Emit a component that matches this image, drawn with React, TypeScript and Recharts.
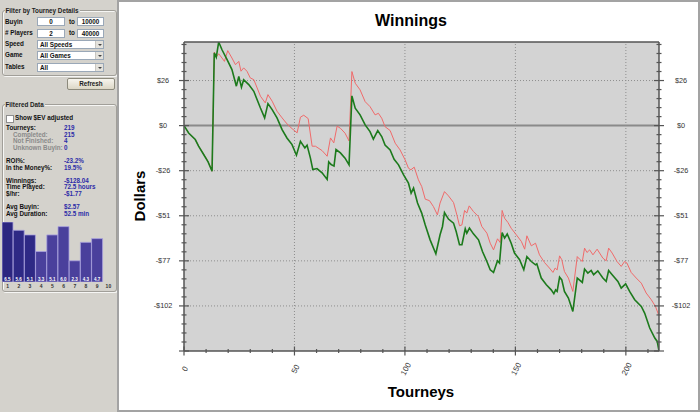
import { LineChart, Line, XAxis, YAxis, ReferenceLine, CartesianGrid, BarChart, Bar, Cell, LabelList } from 'recharts'

// cumulative winnings in dollars, green line: [tourney, dollars]
const winningsPts: [number, number][] = [
  [0, 0], [2.1, -4.2], [5.1, -7.9], [6.6, -11.7], [8.9, -16.4], [10.9, -20.6], [12.7, -25.9],
  [13.7, 41.3], [14.6, 38.8], [15.7, 47.5], [17.2, 43.1], [19.5, 37.5], [21.7, 31.8], [23.7, 22.4],
  [24.8, 28.0], [26.0, 21.8], [27.0, 26.1], [29.3, 23.3], [31.6, 19.5], [34.6, 10.0], [36.5, 4.4],
  [38.0, 12.5], [39.9, 9.1], [42.1, 4.4], [44.4, -2.3], [46.6, -7.0], [48.9, -10.8], [50.9, -16.8],
  [52.7, -8.9], [54.7, -12.7], [55.7, -11.1], [57.2, -18.3], [58.3, -25.0], [60.2, -24.4], [62.5, -26.8],
  [64.8, -30.6], [65.5, -20.6], [66.6, -22.1], [67.9, -23.0], [68.8, -13.6], [70.8, -15.5], [72.9, -18.5],
  [74.7, -22.3], [76.0, 16.9], [77.5, 9.9], [79.7, 6.1], [82.0, 0.4], [84.2, -3.4], [85.7, -7.7],
  [87.7, -2.8], [89.5, -6.2], [91.0, -11.0], [93.3, -13.8], [95.1, -19.1], [97.1, -22.3], [99.4, -28.0],
  [101.6, -32.7], [102.8, -38.4], [103.9, -35.5], [105.7, -44.0], [107.6, -49.7], [109.2, -56.4],
  [111.4, -64.9], [114.0, -72.8], [115.9, -62.0], [117.0, -57.3], [117.9, -49.4], [119.7, -53.1],
  [122.0, -55.4], [123.2, -60.2], [124.7, -67.7], [125.8, -67.7], [127.3, -58.6], [128.0, -61.1],
  [129.2, -58.2], [131.0, -61.5], [133.3, -64.9], [135.1, -71.5], [137.1, -77.2], [138.6, -81.9],
  [140.1, -83.4], [141.9, -76.8], [142.8, -78.1], [144.0, -60.7], [145.1, -63.9], [146.3, -61.6],
  [148.1, -66.8], [149.6, -72.4], [151.9, -76.2], [153.8, -81.9], [155.2, -74.4], [157.2, -77.2],
  [159.1, -79.1], [159.7, -78.5], [161.7, -86.6], [164.0, -90.4], [166.2, -93.3], [167.4, -95.5],
  [168.2, -93.3], [168.9, -94.2], [170.0, -86.1], [171.0, -87.6], [172.2, -94.2], [174.0, -98.0],
  [176.0, -105.6], [178.0, -86.6], [180.3, -89.1], [181.3, -81.5], [182.8, -83.8], [184.3, -82.3],
  [185.4, -84.7], [187.3, -82.5], [189.6, -86.6], [191.1, -88.5], [192.2, -82.3], [193.8, -84.7],
  [196.4, -88.5], [197.9, -92.3], [199.9, -89.9], [201.7, -94.2], [204.0, -98.9], [207.0, -102.7],
  [208.5, -106.5], [210.8, -115.0], [213.1, -120.7], [214.2, -122.6], [215, -128.04],
]

// red line, runs above the winnings
const winningsRedPts: [number, number][] = [
  [0, 0], [2.1, -4.2], [5.1, -7.9], [6.6, -11.7], [8.9, -16.2], [10.9, -20.4], [12.7, -25.9],
  [13.7, 41.8], [14.6, 39.0], [15.7, 40.8], [17.2, 38.4], [18.3, 36.5], [19.8, 42.6], [21.7, 38.4],
  [23.3, 34.6], [24.8, 36.5], [25.8, 30.9], [27.0, 32.8], [28.5, 30.9], [30.0, 27.1], [31.6, 26.1],
  [33.1, 21.4], [34.6, 16.7], [36.8, 12.9], [38.0, 17.6], [39.9, 13.9], [42.1, 8.2], [44.4, 4.4],
  [46.6, 1.0], [48.9, -1.7], [51.2, -4.1], [52.7, 4.8], [54.2, 5.9], [56.2, 4.0], [58.0, -11.7],
  [59.5, -11.7], [62.5, -14.2], [64.8, -17.4], [66.3, -7.0], [67.8, -9.8], [69.3, -0.3], [70.8, -1.5],
  [72.9, -4.3], [74.7, -8.7], [76.0, 30.7], [77.5, 24.1], [79.7, 20.3], [82.0, 13.6], [84.2, 10.8],
  [86.5, 6.1], [88.0, 7.0], [89.5, 4.2], [91.0, -0.6], [93.3, -2.8], [95.6, -10.0], [97.8, -13.8],
  [100.1, -19.5], [101.6, -24.2], [102.7, -25.1], [104.2, -23.6], [106.1, -30.8], [107.6, -34.6],
  [109.2, -41.8], [111.1, -42.6], [112.9, -46.0], [114.7, -50.7], [115.9, -44.0], [117.9, -37.5],
  [119.7, -39.9], [122.0, -43.7], [123.5, -50.7], [124.7, -56.9], [125.8, -56.4], [127.0, -48.2],
  [128.0, -49.7], [129.1, -45.6], [131.0, -48.8], [133.3, -51.7], [134.8, -57.3], [137.1, -61.1],
  [138.6, -66.8], [140.1, -70.6], [141.9, -64.3], [143.1, -66.4], [144.0, -48.2], [145.1, -52.6],
  [146.6, -55.0], [148.1, -58.3], [150.4, -62.0], [152.7, -65.8], [154.2, -70.2], [155.2, -62.6],
  [157.2, -68.3], [159.1, -66.8], [160.9, -73.4], [163.2, -77.8], [165.4, -80.9], [167.0, -83.4],
  [168.0, -80.9], [168.9, -82.0], [170.0, -74.0], [171.0, -76.2], [172.2, -82.9], [174.0, -86.6],
  [176.0, -94.2], [178.0, -74.4], [179.0, -75.8], [180.3, -77.2], [181.3, -69.6], [182.4, -72.1],
  [183.6, -70.6], [185.1, -73.4], [187.0, -70.2], [189.6, -75.3], [191.1, -76.8], [192.2, -69.6],
  [193.8, -72.4], [196.0, -77.2], [197.9, -80.0], [199.4, -77.2], [200.5, -78.1], [202.4, -83.4],
  [204.7, -86.6], [207.0, -89.5], [209.2, -95.1], [211.5, -98.9], [213.4, -102.7], [214.8, -107.4],
]

const xMax = 215
const xMajorTicks = [0, 50, 100, 150, 200]
const xMinorTicks = [0, 10, 20, 30, 40, 50, 60, 70, 80, 90, 100, 110, 120, 130, 140, 150, 160, 170, 180, 190, 200, 210]
const yMin = -128.04
const yMax = 47.5
const yMajorTicks = [25.608, 0, -25.608, -51.216, -76.824, -102.432, -128.04]
const yMajorLabels = ['$26', '$0', '-$26', '-$51', '-$77', '-$102', '']

// avg duration histogram in the side panel
const durationSlots = ['1', '2', '3', '4', '5', '6', '7', '8', '9', '10']
const durationValues = [6.5, 5.6, 5.1, 3.3, 5.1, 6.0, 2.3, 4.3, 4.7, 0]
const durationColors = ['#2b2680', '#2e2985', '#2e2985', '#4a409c', '#4a409c', '#4a409c', '#4a409c', '#4a409c', '#4a409c', '#4a409c']

const winningsData = winningsPts.map(([t, v]) => ({ t, v }))
const redData = winningsRedPts.map(([t, v]) => ({ t, v }))
const durationData = durationSlots.map((slot, i) => ({ slot, v: durationValues[i] }))

const yMinorStep = (yMajorTicks[0] - yMajorTicks[1]) / 5
const yMinorTicks: number[] = []
for (let k = 0; yMin + k * yMinorStep <= yMax; k++) yMinorTicks.push(yMin + k * yMinorStep)

const axisColor = '#555'
const tickFont = '"Liberation Sans", Arial, sans-serif'
const panelFont = '"Liberation Sans", Arial, sans-serif'
const panelBg = '#d4d2cc'

function yInfo(v: number) {
  const k = Math.round((v - yMin) / yMinorStep)
  const idx = yMajorTicks.findIndex((m) => Math.abs(m - v) < 0.01)
  return { major: k % 5 === 0, label: idx >= 0 ? yMajorLabels[idx] : '' }
}

function LeftTick(props: any) {
  const { x, y, payload } = props
  const { major, label } = yInfo(payload.value)
  const len = major ? 5 : 2.5
  return (
    <g>
      <line x1={x - len} x2={x + len} y1={y} y2={y} stroke={axisColor} strokeWidth={1.2} />
      {label && (
        <text x={x - 21} y={y} textAnchor="middle" dominantBaseline="central" fontSize={7.3} fill="#333" fontFamily={tickFont}>
          {label}
        </text>
      )}
    </g>
  )
}

function RightTick(props: any) {
  const { x, y, payload } = props
  const { major, label } = yInfo(payload.value)
  const len = major ? 5 : 2.5
  return (
    <g>
      <line x1={x - len} x2={x + len} y1={y} y2={y} stroke={axisColor} strokeWidth={1.2} />
      {label && (
        <text x={x + 22} y={y} textAnchor="middle" dominantBaseline="central" fontSize={7.3} fill="#333" fontFamily={tickFont}>
          {label}
        </text>
      )}
    </g>
  )
}

function BottomTick(props: any) {
  const { x, y, payload } = props
  const major = xMajorTicks.includes(payload.value)
  const len = major ? 4.5 : 2
  return (
    <g>
      <line x1={x} x2={x} y1={y - len} y2={y + len} stroke={axisColor} strokeWidth={1.2} />
      {major && (
        <text
          x={x + 1}
          y={y + 18}
          textAnchor="middle"
          dominantBaseline="central"
          fontSize={7.8}
          fill="#333"
          fontFamily={tickFont}
          transform={`rotate(-62 ${x + 1} ${y + 18})`}
        >
          {payload.value}
        </text>
      )}
    </g>
  )
}

function TopTick(props: any) {
  const { x, y, payload } = props
  const major = xMajorTicks.includes(payload.value)
  return <line x1={x} x2={x} y1={y} y2={y + (major ? 4.5 : 2.5)} stroke={axisColor} strokeWidth={1.2} />
}

function SlotTick(props: any) {
  const { x, y, payload } = props
  return (
    <text x={x} y={y + 4} textAnchor="middle" dominantBaseline="central" fontSize={5} fontWeight="bold" fill="#333" fontFamily={panelFont}>
      {payload.value}
    </text>
  )
}

function BarValue(props: any) {
  const { x, y, width, height, value } = props
  if (!value) return null
  return (
    <text x={x + width / 2} y={y + height - 3} textAnchor="middle" dominantBaseline="central" fontSize={4.5} fill="#fff" fontFamily={panelFont}>
      {Number(value).toFixed(1)}
    </text>
  )
}

function Txt({ x, y, color = '#111', children }: { x: number; y: number; color?: string; children: any }) {
  return (
    <div style={{ position: 'absolute', left: x, top: y - 3, lineHeight: '6px', whiteSpace: 'nowrap', color }}>{children}</div>
  )
}

function GroupBox({ top, height, title }: { top: number; height: number; title: string }) {
  return (
    <div
      style={{
        position: 'absolute',
        left: 1.5,
        top,
        width: 115,
        height,
        border: '1px solid #a19f99',
        boxShadow: '1px 1px 0 #f6f6f4, inset 1px 1px 0 #f6f6f4',
        borderRadius: 3,
        boxSizing: 'border-box',
      }}
    >
      <div style={{ position: 'absolute', left: 2, top: -4, background: panelBg, padding: '0 1px', lineHeight: '7px', color: '#222' }}>
        {title}
      </div>
    </div>
  )
}

function InputBox({ x, y, w, value }: { x: number; y: number; w: number; value: string }) {
  return (
    <div
      style={{
        position: 'absolute',
        left: x,
        top: y,
        width: w,
        height: 9,
        background: '#fff',
        border: '1px solid #9aa8b8',
        boxSizing: 'border-box',
        textAlign: 'center',
        lineHeight: '7px',
        color: '#111',
      }}
    >
      {value}
    </div>
  )
}

function SelectBox({ y, value }: { y: number; value: string }) {
  return (
    <div
      style={{
        position: 'absolute',
        left: 37,
        top: y,
        width: 67,
        height: 9,
        background: '#fff',
        border: '1px solid #9aa8b8',
        boxSizing: 'border-box',
        lineHeight: '7px',
        paddingLeft: 2,
        color: '#111',
      }}
    >
      {value}
      <div style={{ position: 'absolute', right: 0, top: 0, width: 7, height: 7, background: '#e4e2dc', borderLeft: '1px solid #c8c6c0' }}>
        <div
          style={{
            position: 'absolute',
            left: 1.5,
            top: 2.5,
            width: 0,
            height: 0,
            borderLeft: '2px solid transparent',
            borderRight: '2px solid transparent',
            borderTop: '2px solid #444',
          }}
        />
      </div>
    </div>
  )
}

function LeftPanel() {
  const blue = '#2c2ca8'
  const grey = '#8a8a8a'
  return (
    <div
      style={{
        position: 'absolute',
        left: 0,
        top: 0,
        width: 118,
        height: 412,
        background: panelBg,
        fontFamily: panelFont,
        fontWeight: 'bold',
        fontSize: 6.3,
      }}
    >
      <GroupBox top={10} height={66} title="Filter by Tourney Details" />
      <Txt x={5} y={22}>Buyin</Txt>
      <InputBox x={37} y={17} w={28} value="0" />
      <Txt x={69} y={22}>to</Txt>
      <InputBox x={77} y={17} w={27} value="10000" />
      <Txt x={5} y={33}># Players</Txt>
      <InputBox x={37} y={29} w={28} value="2" />
      <Txt x={69} y={33}>to</Txt>
      <InputBox x={77} y={29} w={27} value="40000" />
      <Txt x={5} y={44}>Speed</Txt>
      <SelectBox y={40} value="All Speeds" />
      <Txt x={5} y={55}>Game</Txt>
      <SelectBox y={51} value="All Games" />
      <Txt x={5} y={67}>Tables</Txt>
      <SelectBox y={63} value="All" />

      <div
        style={{
          position: 'absolute',
          left: 67,
          top: 78,
          width: 48,
          height: 12,
          boxSizing: 'border-box',
          border: '1px solid #8c8a7c',
          borderRadius: 2,
          background: 'linear-gradient(#f7f5ee, #dcd7c6)',
          textAlign: 'center',
          lineHeight: '10px',
          color: '#222',
        }}
      >
        Refresh
      </div>

      <GroupBox top={104} height={188} title="Filtered Data" />
      <div style={{ position: 'absolute', left: 6, top: 115, width: 6, height: 6, background: '#fff', border: '1px solid #8e8e8e' }} />
      <Txt x={15} y={118}>Show $EV adjusted</Txt>

      <Txt x={6} y={128}>Tourneys:</Txt>
      <Txt x={64} y={128} color={blue}>219</Txt>
      <Txt x={13} y={135} color={grey}>Completed:</Txt>
      <Txt x={64} y={135} color={blue}>215</Txt>
      <Txt x={13} y={141} color={grey}>Not Finished:</Txt>
      <Txt x={64} y={141} color={blue}>4</Txt>
      <Txt x={13} y={148} color={grey}>Unknown Buyin:</Txt>
      <Txt x={64} y={148} color={blue}>0</Txt>

      <Txt x={6} y={161}>ROI%:</Txt>
      <Txt x={64} y={161} color={blue}>-23.2%</Txt>
      <Txt x={6} y={168}>In the Money%:</Txt>
      <Txt x={64} y={168} color={blue}>19.5%</Txt>

      <Txt x={6} y={181}>Winnings:</Txt>
      <Txt x={64} y={181} color={blue}>-$128.04</Txt>
      <Txt x={6} y={187}>Time Played:</Txt>
      <Txt x={64} y={187} color={blue}>72.5 hours</Txt>
      <Txt x={6} y={194}>$/hr:</Txt>
      <Txt x={64} y={194} color={blue}>-$1.77</Txt>

      <Txt x={6} y={207}>Avg Buyin:</Txt>
      <Txt x={64} y={207} color={blue}>$2.57</Txt>
      <Txt x={6} y={214}>Avg Duration:</Txt>
      <Txt x={64} y={214} color={blue}>52.5 min</Txt>

      <div style={{ position: 'absolute', left: 2, top: 220 }}>
        <BarChart width={112} height={72} data={durationData} margin={{ top: 2, right: 0, bottom: 0, left: 0 }} barCategoryGap={0}>
          <XAxis dataKey="slot" axisLine={false} tickLine={false} height={10} tickSize={0} tickMargin={0} interval={0} tick={<SlotTick />} />
          <YAxis hide domain={[0, 6.5]} allowDataOverflow />
          <Bar dataKey="v" isAnimationActive={false} stroke="#aaa2de" strokeWidth={0.8}>
            {durationData.map((d, i) => (
              <Cell key={d.slot} fill={durationColors[i]} />
            ))}
            <LabelList dataKey="v" content={<BarValue />} />
          </Bar>
        </BarChart>
      </div>
    </div>
  )
}

export default function App() {
  return (
    <div style={{ position: 'relative', width: 700, height: 412, overflow: 'hidden', background: panelBg }}>
      <style>{'body{margin:0}'}</style>
      <LeftPanel />
      <div
        style={{
          position: 'absolute',
          left: 117,
          top: 0,
          width: 583,
          height: 412,
          background: '#fff',
          border: '2px solid #a3a3a3',
          boxSizing: 'border-box',
        }}
      />
      <div
        style={{
          position: 'absolute',
          left: 120,
          width: 582,
          top: 12.5,
          textAlign: 'center',
          fontFamily: tickFont,
          fontWeight: 'bold',
          fontSize: 16,
          lineHeight: '16px',
          color: '#000',
        }}
      >
        Winnings
      </div>
      <div
        style={{
          position: 'absolute',
          left: 321,
          width: 200,
          top: 384,
          textAlign: 'center',
          fontFamily: tickFont,
          fontWeight: 'bold',
          fontSize: 15,
          lineHeight: '15px',
          color: '#000',
        }}
      >
        Tourneys
      </div>
      <div
        style={{
          position: 'absolute',
          left: 89.5,
          width: 100,
          top: 188,
          height: 16,
          textAlign: 'center',
          fontFamily: tickFont,
          fontWeight: 'bold',
          fontSize: 15,
          lineHeight: '16px',
          color: '#000',
          transform: 'rotate(-90deg)',
        }}
      >
        Dollars
      </div>

      <div style={{ position: 'absolute', left: 0, top: 0 }}>
        <LineChart width={700} height={412} margin={{ top: 32, right: 1, bottom: 21, left: 144 }}>
          <CartesianGrid horizontal={false} vertical={false} fill="#d3d3d3" />
          <XAxis
            type="number"
            dataKey="t"
            domain={[0, xMax]}
            allowDataOverflow
            ticks={xMinorTicks}
            interval={0}
            height={40}
            tickSize={0}
            tickMargin={0}
            tickLine={false}
            stroke={axisColor}
            strokeWidth={1.5}
            tick={<BottomTick />}
          />
          <XAxis
            xAxisId="top"
            orientation="top"
            type="number"
            domain={[0, xMax]}
            allowDataOverflow
            ticks={xMinorTicks}
            interval={0}
            height={10}
            tickSize={0}
            tickMargin={0}
            tickLine={false}
            stroke={axisColor}
            strokeWidth={1.5}
            tick={<TopTick />}
          />
          <YAxis
            type="number"
            domain={[yMin, yMax]}
            allowDataOverflow
            ticks={yMinorTicks}
            interval={0}
            width={40}
            tickSize={0}
            tickMargin={0}
            tickLine={false}
            stroke={axisColor}
            strokeWidth={1.5}
            tick={<LeftTick />}
          />
          <YAxis
            yAxisId="right"
            orientation="right"
            type="number"
            domain={[yMin, yMax]}
            allowDataOverflow
            ticks={yMinorTicks}
            interval={0}
            width={40}
            tickSize={0}
            tickMargin={0}
            tickLine={false}
            stroke={axisColor}
            strokeWidth={1.5}
            tick={<RightTick />}
          />
          {xMajorTicks.slice(1).map((v) => (
            <ReferenceLine key={`x${v}`} x={v} stroke="#8e8e8e" strokeDasharray="1 2" />
          ))}
          {yMajorTicks
            .filter((v) => Math.abs(v) > 0.01 && v > yMin + 0.01)
            .map((v) => (
              <ReferenceLine key={`y${v}`} y={v} stroke="#8e8e8e" strokeDasharray="1 2" />
            ))}
          <ReferenceLine y={0} stroke="#8a8a8a" strokeWidth={2} />
          <Line data={redData} dataKey="v" type="linear" stroke="#f06a6a" strokeWidth={1} dot={false} isAnimationActive={false} />
          <Line data={winningsData} dataKey="v" type="linear" stroke="#1c7a1c" strokeWidth={1.6} dot={false} isAnimationActive={false} />
        </LineChart>
      </div>
    </div>
  )
}
